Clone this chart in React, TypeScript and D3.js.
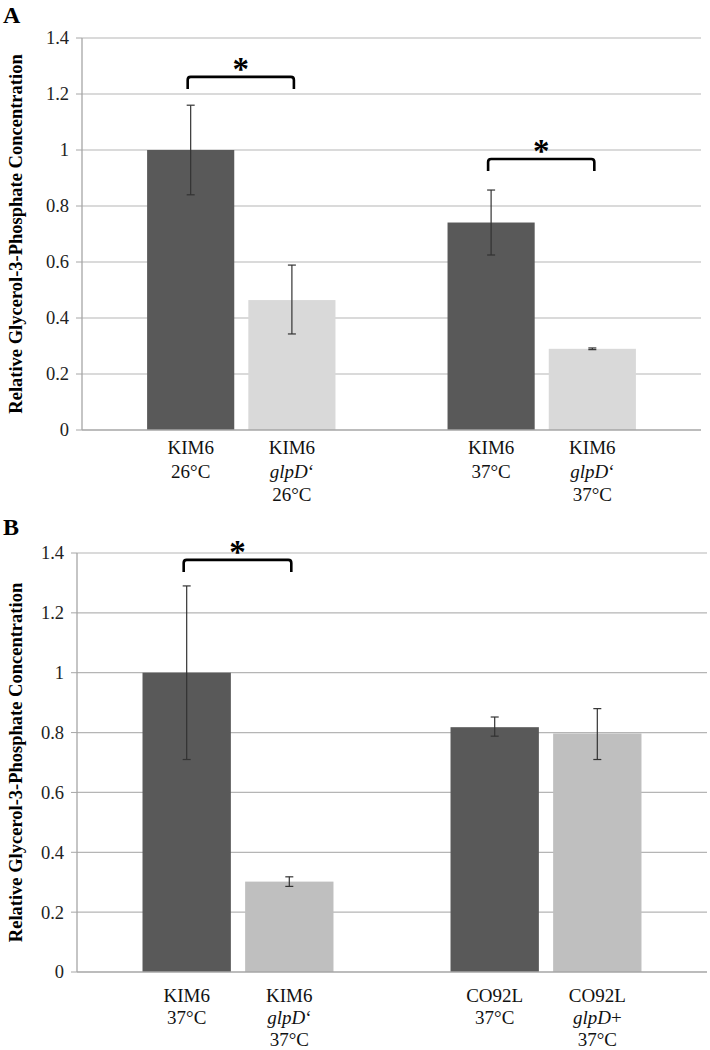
import React from "react";
import * as d3 from "d3";

// panel A
const labelsA = [
  ["KIM6", "26°C"],
  ["KIM6", "glpD‘", "26°C"],
  ["KIM6", "37°C"],
  ["KIM6", "glpD‘", "37°C"],
];
const groupsA = ["g26", "g26", "g37", "g37"];
const valuesA = [1.0, 0.464, 0.741, 0.29];
const errLowA = [0.84, 0.343, 0.625, 0.287];
const errHighA = [1.16, 0.589, 0.857, 0.293];
const bracketsA = [
  [0, 1, 1.261],
  [2, 3, 0.968],
];

// panel B
const labelsB = [
  ["KIM6", "37°C"],
  ["KIM6", "glpD‘", "37°C"],
  ["CO92L", "37°C"],
  ["CO92L", "glpD+", "37°C"],
];
const groupsB = ["kim", "kim", "co92", "co92"];
const valuesB = [1.0, 0.302, 0.818, 0.797];
const errLowB = [0.71, 0.286, 0.788, 0.71];
const errHighB = [1.29, 0.318, 0.852, 0.88];
const bracketsB = [[0, 1, 1.377]];

const yTicks = [0, 0.2, 0.4, 0.6, 0.8, 1, 1.2, 1.4];
const seriesIdx = [0, 1, 0, 1];

const serif = "'Liberation Serif', 'Times New Roman', serif";

type PanelProps = {
  letter: string;
  letterY: number;
  left: number;
  right: number;
  top: number;
  bottom: number;
  labels: string[][];
  groups: string[];
  values: number[];
  errLow: number[];
  errHigh: number[];
  brackets: number[][];
  lightColor: string;
  labelOffset: number;
  lineGap: number;
  paddingInner: number;
  paddingOuter: number;
};

const Panel = (p: PanelProps) => {
  const y = d3.scaleLinear().domain([0, 1.4]).range([p.bottom, p.top]);
  const groupNames = Array.from(new Set(p.groups));
  const x0 = d3
    .scaleBand()
    .domain(groupNames)
    .range([p.left, p.right])
    .paddingInner(p.paddingInner)
    .paddingOuter(p.paddingOuter);
  const x1 = d3
    .scaleBand()
    .domain(["0", "1"])
    .range([0, x0.bandwidth()])
    .paddingInner(0.139);
  const barX = (i: number) => (x0(p.groups[i]) as number) + (x1(String(seriesIdx[i])) as number);
  const barC = (i: number) => barX(i) + x1.bandwidth() / 2;
  const colors = ["#595959", p.lightColor];

  return (
    <g>
      <text x={3} y={p.letterY} fontFamily={serif} fontWeight="bold" fontSize={24}>
        {p.letter}
      </text>
      {/* gridlines */}
      {yTicks.map((t) => (
        <g key={t}>
          {t > 0 && (
            <line x1={p.left} x2={p.right} y1={y(t)} y2={y(t)} stroke="#b5b5b5" strokeWidth={1.2} />
          )}
          <line x1={p.left - 6} x2={p.left} y1={y(t)} y2={y(t)} stroke="#a6a6a6" strokeWidth={1} />
          <text
            x={p.left - 13}
            y={y(t)}
            dy="0.35em"
            textAnchor="end"
            fontFamily={serif}
            fontSize={18.5}
            fill="#222"
          >
            {d3.format("~g")(t)}
          </text>
        </g>
      ))}
      <text
        transform={`translate(22,${(p.top + p.bottom) / 2}) rotate(-90)`}
        textAnchor="middle"
        fontFamily={serif}
        fontWeight="bold"
        fontSize={18.5}
      >
        Relative Glycerol-3-Phosphate Concentration
      </text>
      {/* bars */}
      {p.values.map((v, i) => (
        <rect
          key={i}
          x={barX(i)}
          y={y(v)}
          width={x1.bandwidth()}
          height={p.bottom - y(v)}
          fill={colors[seriesIdx[i]]}
        />
      ))}
      {/* axes */}
      <line x1={p.left} x2={p.left} y1={p.top} y2={p.bottom} stroke="#a6a6a6" strokeWidth={1.3} />
      <line x1={p.left} x2={p.right} y1={p.bottom} y2={p.bottom} stroke="#a6a6a6" strokeWidth={1.3} />
      {/* error bars */}
      {p.values.map((v, i) => {
        const c = barC(i);
        return (
          <g key={i} stroke="#333" strokeWidth={1.2}>
            <line x1={c} x2={c} y1={y(p.errLow[i])} y2={y(p.errHigh[i])} />
            <line x1={c - 4} x2={c + 4} y1={y(p.errLow[i])} y2={y(p.errLow[i])} />
            <line x1={c - 4} x2={c + 4} y1={y(p.errHigh[i])} y2={y(p.errHigh[i])} />
          </g>
        );
      })}
      {/* significance brackets */}
      {p.brackets.map(([a, b, h], k) => {
        const xa = barC(a) - 3;
        const xb = barC(b) + 2;
        const yt = y(h);
        const r = 3;
        return (
          <g key={k}>
            <path
              d={`M${xa},${yt + 12} L${xa},${yt + r} Q${xa},${yt} ${xa + r},${yt} L${xb - r},${yt} Q${xb},${yt} ${xb},${yt + r} L${xb},${yt + 12}`}
              fill="none"
              stroke="#000"
              strokeWidth={2.6}
            />
            <text
              x={(xa + xb) / 2}
              y={yt + 3}
              textAnchor="middle"
              fontFamily={serif}
              fontWeight="bold"
              fontSize={33}
            >
              *
            </text>
          </g>
        );
      })}
      {/* category labels */}
      {p.labels.map((lines, i) => (
        <text key={i} textAnchor="middle" fontFamily={serif} fontSize={19} fill="#111">
          {lines.map((ln, j) => {
            const yy = p.bottom + p.labelOffset + j * p.lineGap;
            if (ln.startsWith("glpD")) {
              return (
                <tspan key={j} x={barC(i)} y={yy}>
                  <tspan fontStyle="italic">glpD</tspan>
                  {ln.slice(4)}
                </tspan>
              );
            }
            return (
              <tspan key={j} x={barC(i)} y={yy}>
                {ln}
              </tspan>
            );
          })}
        </text>
      ))}
    </g>
  );
};

export default function App() {
  return (
    <svg
      width={710}
      height={1050}
      style={{ position: "absolute", left: 0, top: 0, background: "#fff" }}
    >
      <rect width={710} height={1050} fill="#fff" />
      <Panel
        letter="A"
        letterY={23}
        left={82}
        right={701}
        top={38}
        bottom={430}
        labels={labelsA}
        groups={groupsA}
        values={valuesA}
        errLow={errLowA}
        errHigh={errHighA}
        brackets={bracketsA}
        lightColor="#d9d9d9"
        labelOffset={24}
        lineGap={23.5}
        paddingInner={0.373}
        paddingOuter={0.2167}
      />
      <Panel
        letter="B"
        letterY={535}
        left={77}
        right={707}
        top={553}
        bottom={972}
        labels={labelsB}
        groups={groupsB}
        values={valuesB}
        errLow={errLowB}
        errHigh={errHighB}
        brackets={bracketsB}
        lightColor="#bfbfbf"
        labelOffset={30}
        lineGap={22}
        paddingInner={0.38}
        paddingOuter={0.2127}
      />
    </svg>
  );
}
